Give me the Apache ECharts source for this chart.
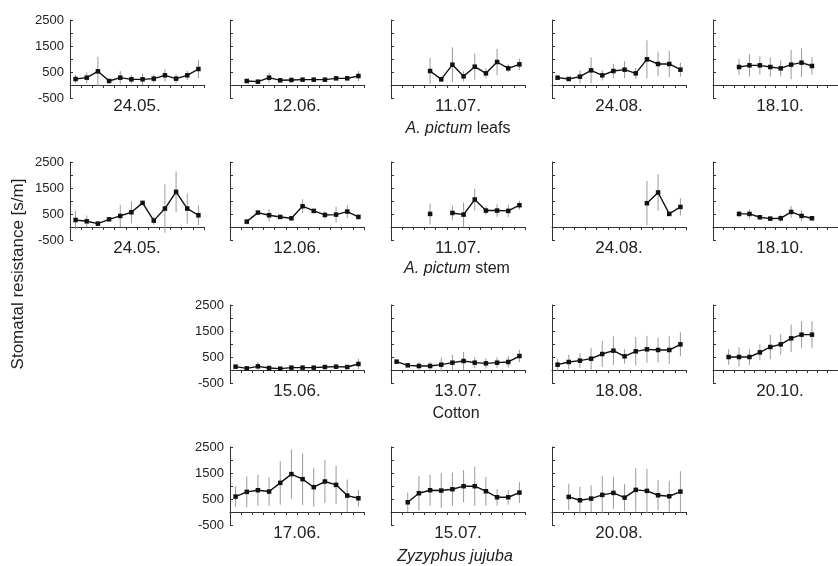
<!DOCTYPE html>
<html><head><meta charset="utf-8">
<script src="https://cdn.jsdelivr.net/npm/echarts@6/dist/echarts.min.js"></script>
<style>html,body{margin:0;padding:0;background:#fff}#c{width:838px;height:566px}</style>
</head><body><div id="c"></div>
<script>
// ---- data ----
const CATS = ['1','2','3','4','5','6','7','8','9','10','11','12'];
const YTICKS = [-500, 500, 1500, 2500];
const Y_MIN = -500, Y_MAX = 2500, Y_STEP = 500;

const leafs_2405_mean = [231,282,526,154,282,218,218,244,372,244,372,615];
const leafs_2405_err  = [160,210,560,50,250,160,220,160,240,170,180,350];
const leafs_1206_mean = [null,154,128,282,180,192,205,205,205,256,256,346];
const leafs_1206_err  = [null,60,50,190,60,50,50,50,50,60,70,190];
const leafs_1107_mean = [null,null,null,538,218,782,333,705,449,885,641,795];
const leafs_1107_err  = [null,null,null,500,100,670,200,500,190,510,150,220];
const leafs_2408_mean = [282,231,321,564,372,538,590,449,987,808,808,590];
const leafs_2408_err  = [60,50,250,500,200,280,330,210,730,470,500,270];
const leafs_1810_mean = [null,null,692,756,756,692,641,782,859,731,null,null];
const leafs_1810_err  = [null,null,310,430,350,370,310,560,550,340,null,null];

const stem_2405_mean = [271,219,129,296,425,567,928,245,709,1353,709,451];
const stem_2405_err  = [350,220,60,60,430,420,50,150,930,780,580,380];
const stem_1206_mean = [null,206,554,451,387,335,799,619,464,477,593,387];
const stem_1206_err  = [null,100,60,230,60,60,270,80,150,300,250,100];
const stem_1107_mean = [null,null,null,503,null,541,477,1057,632,632,619,838];
const stem_1107_err  = [null,null,null,400,null,280,470,420,160,240,240,170];
const stem_2408_mean = [null,null,null,null,null,null,null,null,915,1328,503,773];
const stem_2408_err  = [null,null,null,null,null,null,null,null,860,700,80,330];
const stem_1810_mean = [null,null,503,503,374,322,335,580,425,335,null,null];
const stem_1810_err  = [null,null,120,180,60,60,130,230,200,80,null,null];

const cotton_1506_mean = [128,64,141,77,51,90,90,90,115,128,115,231];
const cotton_1506_err  = [50,40,160,40,30,40,40,40,40,40,40,200];
const cotton_1307_mean = [321,179,154,154,205,282,346,282,256,282,308,538];
const cotton_1307_err  = [60,60,150,150,270,300,350,220,200,200,220,240];
const cotton_1808_mean = [205,308,359,436,615,744,526,718,795,769,769,987];
const cotton_1808_err  = [220,280,290,420,500,550,280,550,520,480,530,460];
const cotton_2010_mean = [null,500,500,500,679,885,987,1218,1359,1359,null,null];
const cotton_2010_err  = [null,300,370,300,310,470,390,530,520,520,null,null];

const zizy_1706_mean = [593,773,838,786,1121,1457,1263,954,1173,1044,632,528];
const zizy_1706_err  = [390,590,600,550,840,950,990,750,830,740,620,320];
const zizy_1507_mean = [null,374,722,838,825,876,993,993,799,567,567,748];
const zizy_1507_err  = [null,370,660,600,670,640,620,750,550,320,280,400];
const zizy_2008_mean = [null,580,451,516,657,735,554,851,812,645,606,786];
const zizy_2008_err  = [null,510,520,520,720,620,520,840,850,580,600,780];

const GROUP_LABELS = ['{i|A. pictum} leafs', '{i|A. pictum} stem', 'Cotton', '{i|Zyzyphus jujuba}'];
const Y_TITLE = 'Stomatal resistance [s/m]';

const PANELS = [
  {date:'24.05.', mean:leafs_2405_mean, err:leafs_2405_err},
  {date:'12.06.', mean:leafs_1206_mean, err:leafs_1206_err},
  {date:'11.07.', mean:leafs_1107_mean, err:leafs_1107_err},
  {date:'24.08.', mean:leafs_2408_mean, err:leafs_2408_err},
  {date:'18.10.', mean:leafs_1810_mean, err:leafs_1810_err},
  {date:'24.05.', mean:stem_2405_mean, err:stem_2405_err},
  {date:'12.06.', mean:stem_1206_mean, err:stem_1206_err},
  {date:'11.07.', mean:stem_1107_mean, err:stem_1107_err},
  {date:'24.08.', mean:stem_2408_mean, err:stem_2408_err},
  {date:'18.10.', mean:stem_1810_mean, err:stem_1810_err},
  {date:'15.06.', mean:cotton_1506_mean, err:cotton_1506_err},
  {date:'13.07.', mean:cotton_1307_mean, err:cotton_1307_err},
  {date:'18.08.', mean:cotton_1808_mean, err:cotton_1808_err},
  {date:'20.10.', mean:cotton_2010_mean, err:cotton_2010_err},
  {date:'17.06.', mean:zizy_1706_mean, err:zizy_1706_err},
  {date:'15.07.', mean:zizy_1507_mean, err:zizy_1507_err},
  {date:'20.08.', mean:zizy_2008_mean, err:zizy_2008_err}
];

// ---- layout ----
const COL_LEFT = [70, 230, 391, 552, 713];
const ROW_TOP = [20, 162, 305, 447];
const PW = 134, PH = 78;
const LAYOUT = [
  [0,0,true],[0,1,false],[0,2,false],[0,3,false],[0,4,false],
  [1,0,true],[1,1,false],[1,2,false],[1,3,false],[1,4,false],
  [2,1,true],[2,2,false],[2,3,false],[2,4,false],
  [3,1,true],[3,2,false],[3,3,false]
];
const GROUP_POS = [[458,129],[457,269],[456,414],[455,557]];
const FONT = 'Liberation Sans, Arial, sans-serif';
const AX = '#333';

const grids=[], xAxes=[], yAxes=[], series=[], graphics=[];
PANELS.forEach((p,k)=>{
  const [r,c,ylab] = LAYOUT[k];
  const left = COL_LEFT[c], top = ROW_TOP[r];
  grids.push({left:left, top:top, width:PW, height:PH, containLabel:false});
  xAxes.push({gridIndex:k, type:'category', data:CATS, boundaryGap:true,
    axisLine:{show:true, onZero:true, lineStyle:{color:AX, width:1}},
    axisTick:{show:true, length:3, interval:0, lineStyle:{color:AX}},
    axisLabel:{show:false}, splitLine:{show:false}});
  yAxes.push({gridIndex:k, type:'value', min:Y_MIN, max:Y_MAX, interval:Y_STEP,
    axisLine:{show:true, lineStyle:{color:AX, width:1}},
    axisTick:{show:true, inside:true, length:3, lineStyle:{color:AX}},
    axisLabel:{show:ylab, formatter:v=>YTICKS.includes(v)?String(v):'', fontSize:13, color:'#222', margin:6, fontFamily:FONT},
    splitLine:{show:false}});
  const eb = [];
  p.mean.forEach((m,i)=>{ if(m!=null) eb.push([i, m-p.err[i], m+p.err[i]]); });
  series.push({type:'custom', xAxisIndex:k, yAxisIndex:k, data:eb, encode:{x:0,y:[1,2]}, z:1, silent:true,
    renderItem:(params, api)=>{
      const lo = api.coord([api.value(0), api.value(1)]);
      const hi = api.coord([api.value(0), api.value(2)]);
      return {type:'line', shape:{x1:lo[0], y1:lo[1], x2:hi[0], y2:hi[1]}, style:{stroke:'#9a9a9a', lineWidth:1}};
    }});
  series.push({type:'line', xAxisIndex:k, yAxisIndex:k, data:p.mean.map(v=>v==null?'-':v),
    symbol:'rect', symbolSize:4.5, showSymbol:true, connectNulls:false, z:3,
    itemStyle:{color:'#111'}, lineStyle:{color:'#111', width:1.4}});
  graphics.push({type:'text', x:left+PW/2, y:top+PH+8,
    style:{text:p.date, align:'center', verticalAlign:'middle', fontSize:17, fontFamily:FONT, fill:'#222'}});
});
GROUP_LABELS.forEach((t,g)=>{
  graphics.push({type:'text', x:GROUP_POS[g][0], y:GROUP_POS[g][1],
    style:{text:t, align:'center', verticalAlign:'middle', fontSize:16, fontFamily:FONT, fill:'#222',
      rich:{i:{fontStyle:'italic', fontSize:16, fontFamily:FONT, fill:'#222'}}}});
});
graphics.push({type:'text', x:18, y:274, rotation:Math.PI/2,
  style:{text:Y_TITLE, align:'center', verticalAlign:'middle', fontSize:17, fontFamily:FONT, fill:'#222'}});

const chart = echarts.init(document.getElementById('c'), null, {renderer:'canvas'});
chart.setOption({animation:false, backgroundColor:'#fff',
  grid:grids, xAxis:xAxes, yAxis:yAxes, series:series, graphic:graphics});
</script></body></html>
